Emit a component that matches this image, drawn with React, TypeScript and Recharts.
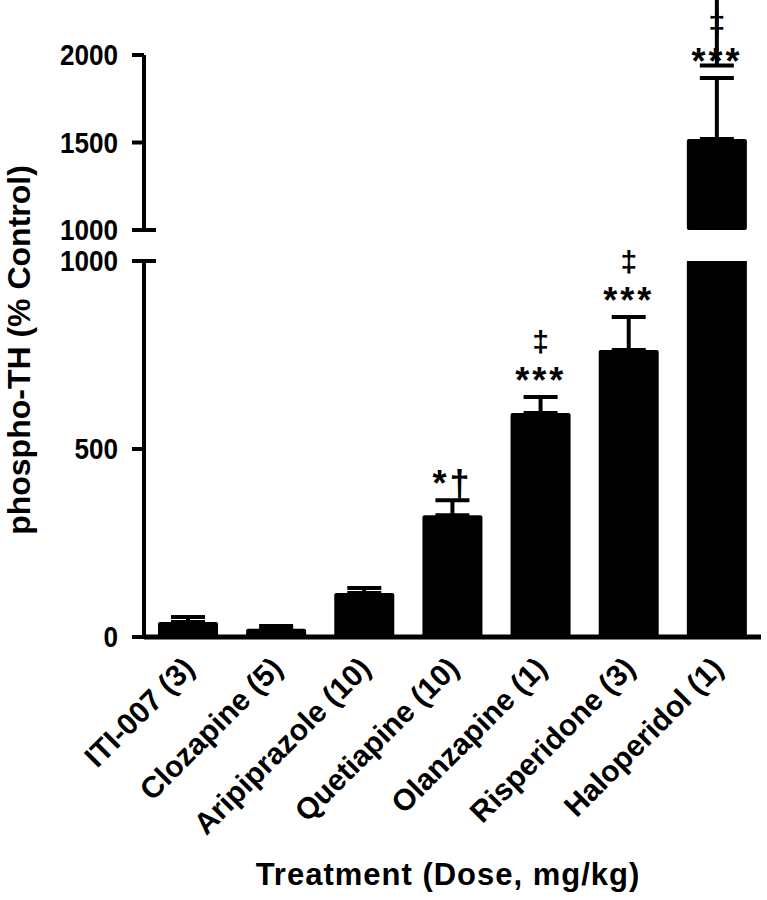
import React from "react";
import {
  ComposedChart,
  Bar,
  Line,
  XAxis,
  YAxis,
  ErrorBar,
  LabelList,
} from "recharts";

// values (phospho-TH, % of control, mean + SEM)
const treatments = [
  "ITI-007 (3)",
  "Clozapine (5)",
  "Aripiprazole (10)",
  "Quetiapine (10)",
  "Olanzapine (1)",
  "Risperidone (3)",
  "Haloperidol (1)",
];
const means = [40, 22, 117, 324, 596, 763, 1520];
const sems = [13, 7, 13, 40, 42, 88, 349];
const starMarks = ["", "", "", "*\u2020", "***", "***", "***"];
const daggerMarks = ["", "", "", "", "\u2021", "\u2021", "\u2021"];
const lowerTicks = [0, 500, 1000];
const upperTicks = [1000, 1500, 2000];
const BREAK = 1000;

const FONT = "'Liberation Sans', Arial, Helvetica, sans-serif";
const W = 767;
const TICK_SIZE = 12;
const TICK_MARGIN = 14;

// lower panel: 0-1000, upper panel: 1000-2000 (broken axis)
const lowerData = treatments.map((name, i) => {
  const inside = means[i] + sems[i] <= BREAK;
  return {
    name,
    value: means[i],
    err: [0, sems[i]],
    top: inside ? means[i] + sems[i] : null,
    stars: inside ? starMarks[i] : "",
    daggers: inside ? daggerMarks[i] : "",
  };
});

const upperData = treatments.map((name, i) => {
  const inside = means[i] + sems[i] > BREAK;
  return {
    name,
    value: means[i] > BREAK ? means[i] : null,
    err: means[i] > BREAK ? [0, sems[i]] : null,
    top: inside ? means[i] + sems[i] : null,
    stars: inside ? starMarks[i] : "",
    daggers: inside ? daggerMarks[i] : "",
  };
});

const YTick = (props: any) => {
  const { x, y, payload } = props;
  const axisX = x + TICK_MARGIN + TICK_SIZE;
  return (
    <g>
      <text
        x={0}
        y={0}
        transform={`translate(${x},${y}) scale(0.87,1)`}
        textAnchor="end"
        dy={10}
        fontFamily={FONT}
        fontWeight="bold"
        fontSize={30}
        fill="#000"
      >
        {payload.value}
      </text>
      {payload.value === BREAK && (
        <line x1={axisX} y1={y} x2={axisX + 12} y2={y} stroke="#000" strokeWidth={4} />
      )}
    </g>
  );
};

const XTick = (props: any) => {
  const { x, y, payload } = props;
  const px = x + 8;
  const py = y + 33;
  return (
    <text
      x={px}
      y={py}
      transform={`rotate(-45, ${px}, ${py})`}
      textAnchor="end"
      fontFamily={FONT}
      fontWeight="bold"
      fontSize={30}
      fill="#000"
    >
      {payload.value}
    </text>
  );
};

const StarLabel = (props: any) => {
  const { x, y, value } = props;
  if (!value || !y) return null;
  return (
    <text
      x={x}
      y={y - 4}
      textAnchor="middle"
      fontFamily={FONT}
      fontWeight="bold"
      fontSize={36}
      letterSpacing={3}
      fill="#000"
    >
      {value}
    </text>
  );
};

const DaggerLabel = (props: any) => {
  const { x, y, value } = props;
  if (!value || !y) return null;
  return (
    <text
      x={x}
      y={y - 45}
      textAnchor="middle"
      fontFamily={FONT}
      fontWeight="bold"
      fontSize={30}
      fill="#000"
    >
      {value}
    </text>
  );
};

const axisStroke = { stroke: "#000", strokeWidth: 4 };

export default function App() {
  return (
    <div style={{ position: "absolute", left: 0, top: 0, width: W, height: 900, background: "#fff" }}>
      {/* lower segment 0-1000 */}
      <div style={{ position: "absolute", left: 0, top: 0 }}>
        <ComposedChart
          width={W}
          height={900}
          data={lowerData}
          margin={{ top: 261, right: 6, bottom: 223, left: 0 }}
        >
          <XAxis
            dataKey="name"
            height={40}
            interval={0}
            tickLine={false}
            tickSize={0}
            tickMargin={0}
            axisLine={{ stroke: "#000", strokeWidth: 5 }}
            tick={<XTick />}
          />
          <YAxis
            width={144}
            domain={[0, BREAK]}
            ticks={lowerTicks}
            allowDataOverflow
            tickSize={TICK_SIZE}
            tickMargin={TICK_MARGIN}
            tickLine={axisStroke}
            axisLine={axisStroke}
            tick={<YTick />}
          />
          <Bar dataKey="value" fill="#000" barSize={60} radius={2} isAnimationActive={false}>
            <ErrorBar dataKey="err" width={17} stroke="#000" strokeWidth={4} direction="y" />
          </Bar>
          <Line dataKey="top" stroke="none" dot={false} activeDot={false} isAnimationActive={false}>
            <LabelList dataKey="stars" content={<StarLabel />} />
            <LabelList dataKey="daggers" content={<DaggerLabel />} />
          </Line>
        </ComposedChart>
      </div>
      {/* upper segment 1000-2000 */}
      <div style={{ position: "absolute", left: 0, top: 0 }}>
        <ComposedChart
          width={W}
          height={260}
          data={upperData}
          margin={{ top: 55, right: 6, bottom: 30, left: 0 }}
        >
          <XAxis dataKey="name" hide />
          <YAxis
            width={144}
            domain={[BREAK, 2000]}
            ticks={upperTicks}
            allowDataOverflow
            tickSize={TICK_SIZE}
            tickMargin={TICK_MARGIN}
            tickLine={axisStroke}
            axisLine={axisStroke}
            tick={<YTick />}
          />
          <Bar dataKey="value" fill="#000" barSize={60} radius={2} isAnimationActive={false}>
            <ErrorBar dataKey="err" width={17} stroke="#000" strokeWidth={4} direction="y" />
          </Bar>
          <Line dataKey="top" stroke="none" dot={false} activeDot={false} isAnimationActive={false}>
            <LabelList dataKey="stars" content={<StarLabel />} />
            <LabelList dataKey="daggers" content={<DaggerLabel />} />
          </Line>
        </ComposedChart>
      </div>
      {/* axis titles */}
      <svg
        width={W}
        height={900}
        style={{ position: "absolute", left: 0, top: 0, pointerEvents: "none" }}
      >
        <text
          x={0}
          y={0}
          transform="translate(30, 350) rotate(-90)"
          textAnchor="middle"
          fontFamily={FONT}
          fontWeight="bold"
          fontSize={32}
          fill="#000"
        >
          phospho-TH (% Control)
        </text>
        <text
          x={448}
          y={885}
          textAnchor="middle"
          fontFamily={FONT}
          fontWeight="bold"
          fontSize={31}
          letterSpacing={1}
          fill="#000"
        >
          Treatment (Dose, mg/kg)
        </text>
      </svg>
    </div>
  );
}
